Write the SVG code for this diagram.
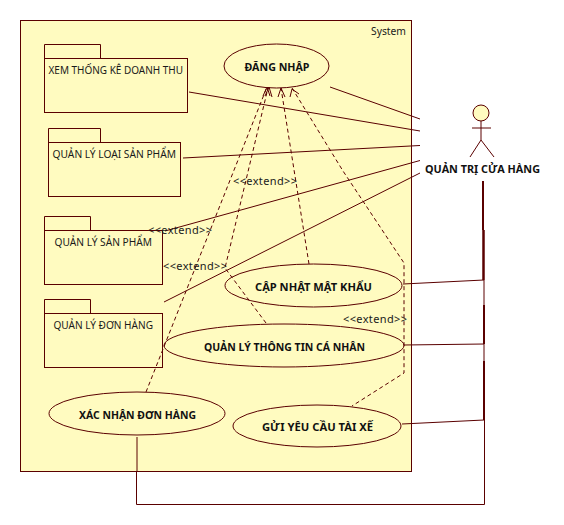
<svg xmlns="http://www.w3.org/2000/svg" width="564" height="525" viewBox="0 0 564 525">
<style>
.s{fill:#fffbc0;stroke:#5a0000;stroke-width:1}
.c{fill:none;stroke:#5a0000;stroke-width:1}
.d{fill:none;stroke:#5a0000;stroke-width:1;stroke-dasharray:4 3}
.t{font-family:"Noto Sans",sans-serif;font-size:11px;fill:#1a1a1a}
.b{font-family:"Noto Sans",sans-serif;font-size:11px;font-weight:bold;fill:#111;text-anchor:middle}
</style>
<rect width="564" height="525" fill="#fff"/>
<g id="system"><rect class="s" x="20.500" y="20.500" width="391" height="451"/><text class="t" x="371" y="35" textLength="35" lengthAdjust="spacingAndGlyphs">System</text></g>
<g id="n1"><path class="s" d="M44.500 44.500H100.500V58.500H44.500Z"/><rect class="s" x="44.500" y="58.500" width="143" height="54"/><text class="t" x="48.500" y="74" textLength="134.500" lengthAdjust="spacingAndGlyphs">XEM THỐNG KÊ DOANH THU</text></g>
<g id="n2"><path class="s" d="M48.500 128.500H100.500V142.500H48.500Z"/><rect class="s" x="48.500" y="142.500" width="132" height="54"/><text class="t" x="52.500" y="158" textLength="123.500" lengthAdjust="spacingAndGlyphs">QUẢN LÝ LOẠI SẢN PHẨM</text></g>
<g id="n3"><path class="s" d="M44.500 216.500H90.500V230.500H44.500Z"/><rect class="s" x="44.500" y="230.500" width="118" height="54"/><text class="t" x="54.500" y="246" textLength="97.500" lengthAdjust="spacingAndGlyphs">QUẢN LÝ SẢN PHẨM</text></g>
<g id="n4"><path class="s" d="M44.500 299.500H90.500V313.500H44.500Z"/><rect class="s" x="44.500" y="313.500" width="118" height="54"/><text class="t" x="53.500" y="329" textLength="99.500" lengthAdjust="spacingAndGlyphs">QUẢN LÝ ĐƠN HÀNG</text></g>
<g id="u1"><ellipse class="s" cx="276.500" cy="66" rx="52.500" ry="22"/><text class="b" x="277" y="71" textLength="65" lengthAdjust="spacingAndGlyphs">ĐĂNG NHẬP</text></g>
<g id="u2"><ellipse class="s" cx="313.500" cy="285.500" rx="88.500" ry="21.500"/><text class="b" x="313.500" y="291" textLength="117" lengthAdjust="spacingAndGlyphs">CẬP NHẬT MẬT KHẨU</text></g>
<g id="u3"><ellipse class="s" cx="284" cy="345.500" rx="120" ry="21.500"/><text class="b" x="284.500" y="351" textLength="161" lengthAdjust="spacingAndGlyphs">QUẢN LÝ THÔNG TIN CÁ NHÂN</text></g>
<g id="u4"><ellipse class="s" cx="137" cy="413.500" rx="88" ry="21.500"/><text class="b" x="137.500" y="419" textLength="117" lengthAdjust="spacingAndGlyphs">XÁC NHẬN ĐƠN HÀNG</text></g>
<g id="u5"><ellipse class="s" cx="317" cy="426" rx="84" ry="21"/><text class="b" x="317.500" y="431" textLength="111" lengthAdjust="spacingAndGlyphs">GỬI YÊU CẦU TÀI XẾ</text></g>
<g id="connectors">
<path class="c" d="M189 92L420 131M183 158L420 145.500M165 231L420 160.500M164 302L420 173M330 87L420 119"/>
<path class="c" d="M403 284L484 280M404 345L484 344M402 424L484 420"/>
<path class="c" style="stroke-width:2" d="M483 181V230M484 305V344M484 361V420"/>
<path class="c" style="stroke-width:2.500" d="M483.500 230V280"/>
<path class="c" d="M484 280V305M484 344V361M484.500 420V504.500H136.500V471.500H137V437"/>
<path class="d" d="M146 392L267 87M266 323L225 268L268 88M309 264L281 88M292 88L343 171L404 263V373L352 406"/>
<path class="c" d="M263 96L267 87L270 96M265 96L269 87L272 97M278 97L281 88L285 97M290 97L292 89L299 94"/>
</g>
<g id="labels">
<text class="t" x="233" y="184.500" textLength="64">&lt;&lt;extend&gt;&gt;</text>
<text class="t" x="148" y="234" textLength="64">&lt;&lt;extend&gt;&gt;</text>
<text class="t" x="163" y="270" textLength="64">&lt;&lt;extend&gt;&gt;</text>
<text class="t" x="343" y="322.500" textLength="64">&lt;&lt;extend&gt;&gt;</text>
</g>
<g id="actor"><circle class="s" cx="481" cy="113" r="8"/><path class="c" d="M481 121V140M472 128H491M481 140L470 157M481 140L494 157"/><text class="b" x="482.500" y="173" textLength="115" lengthAdjust="spacingAndGlyphs">QUẢN TRỊ CỬA HÀNG</text></g>
</svg>
